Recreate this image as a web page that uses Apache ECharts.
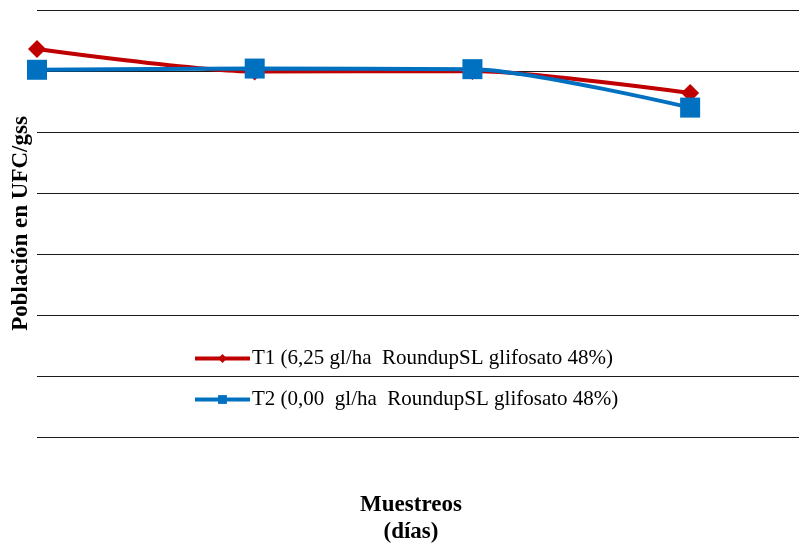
<!DOCTYPE html>
<html><head><meta charset="utf-8">
<script src="https://cdn.jsdelivr.net/npm/echarts@6/dist/echarts.min.js"></script>
<style>html,body{margin:0;padding:0;background:#fff}#c{width:799px;height:543px}</style>
</head><body><div id="c"></div>
<script>
const samples = [0, 1, 2, 3];
const t1Name = 'T1 (6,25 gl/ha  RoundupSL glifosato 48%)';
const t2Name = 'T2 (0,00  gl/ha  RoundupSL glifosato 48%)';
const t1Values = [6.36, 5.99, 6.0, 5.64];
const t2Values = [6.02, 6.04, 6.03, 5.40];
const yTicks = [0, 1, 2, 3, 4, 5, 6, 7];

const chart = echarts.init(document.getElementById('c'));
const font = '"Liberation Serif", "Times New Roman", serif';
chart.setOption({
  animation: false,
  backgroundColor: '#fff',
  grid: { left: 37, right: 0, top: 10, bottom: 106, containLabel: false, outerBoundsMode: 'none' },
  xAxis: {
    type: 'value', min: 0, max: 3.5, interval: 1,
    axisLine: { show: false }, axisTick: { show: false }, axisLabel: { show: false },
    splitLine: { show: false },
    name: 'Muestreos\n(días)', nameLocation: 'middle', nameGap: 55,
    nameTextStyle: { fontFamily: font, fontWeight: 'bold', fontSize: 23, color: '#000', lineHeight: 27, padding: [0, 14, 0, 0] }
  },
  yAxis: {
    type: 'value', min: yTicks[0], max: yTicks[yTicks.length - 1], interval: 1,
    axisLine: { show: false }, axisTick: { show: false }, axisLabel: { show: false },
    splitLine: { show: true, lineStyle: { color: '#1a1a1a', width: 1.2 } },
    name: 'Población en UFC/gss', nameLocation: 'middle', nameGap: 4,
    nameTextStyle: { fontFamily: font, fontWeight: 'bold', fontSize: 23, color: '#000' }
  },
  legend: {
    orient: 'vertical', left: 188, top: 343, itemGap: 20,
    itemWidth: 55, itemHeight: 11,
    lineStyle: { width: 4 },
    textStyle: { fontFamily: font, fontSize: 21, color: '#000', padding: [0, 0, 0, -3] },
    data: [t1Name, t2Name]
  },
  series: [
    {
      name: t1Name, type: 'line', smooth: 0.25,
      data: samples.map((x, i) => [x, t1Values[i]]),
      symbol: 'diamond', symbolSize: 18,
      lineStyle: { color: '#C00000', width: 4 },
      itemStyle: { color: '#C00000' }
    },
    {
      name: t2Name, type: 'line', smooth: 0.25,
      data: samples.map((x, i) => [x, t2Values[i]]),
      symbol: 'rect', symbolSize: 20,
      lineStyle: { color: '#0070C0', width: 4 },
      itemStyle: { color: '#0070C0' }
    }
  ]
});
</script></body></html>
